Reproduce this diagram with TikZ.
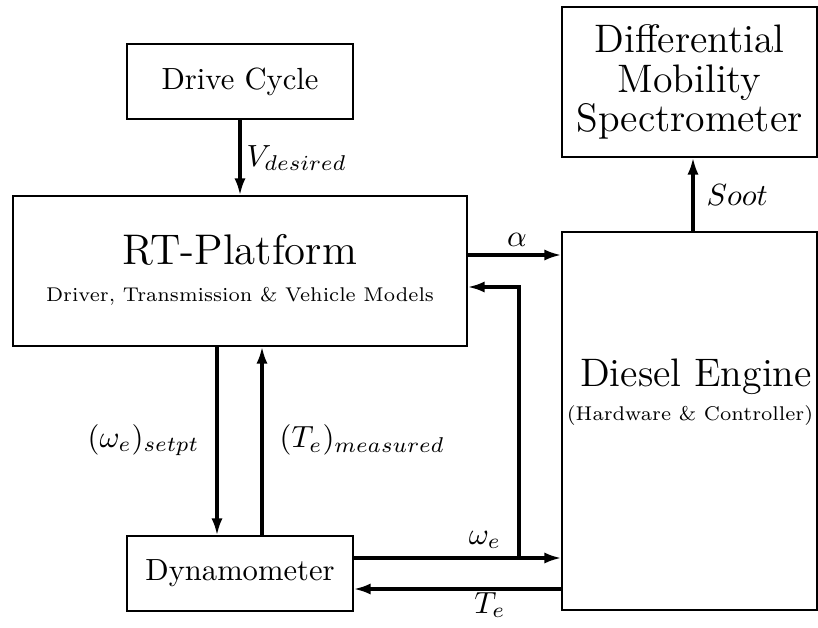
\documentclass[tikz,border=0pt]{standalone}
\usetikzlibrary{arrows.meta}
\def\pxu{0.3268pt}
\begin{document}
\begin{tikzpicture}[x=0.3268pt, y=-0.3268pt,
  blk/.style={draw, line width=0.45pt, inner sep=0pt},
  sig/.style={line width=1pt, -{Latex[length=5.5pt,width=3.6pt]}},
  lbl/.style={inner sep=0pt},
  bigtxt/.style={font=\fontsize{13}{13}\selectfont},
  smalltxt/.style={font=\fontsize{6.5}{8}\selectfont}]
  \useasboundingbox (0,0) rectangle (818,628);

  % blocks
  \node[blk, minimum width=226*\pxu, minimum height=75*\pxu] (dc) at (240,81.5) {Drive Cycle};
  \node[blk, minimum width=454*\pxu, minimum height=150*\pxu] (rt) at (240,271) {};
  \node[lbl, font=\fontsize{14}{17}\selectfont] (rtname) at (240,250) {RT-Platform};
  \node[lbl, smalltxt] (rtsub) at (240,296) {Driver, Transmission \& Vehicle Models};
  \node[blk, minimum width=226*\pxu, minimum height=75*\pxu] (dyn) at (240,573.5) {Dynamometer};
  \node[blk, minimum width=255*\pxu, minimum height=378*\pxu] (de) at (689.5,421) {};
  \node[lbl, bigtxt] (dename) at (696,377) {Diesel Engine};
  \node[lbl, smalltxt] (desub) at (690,416) {(Hardware \& Controller)};
  \node[blk, minimum width=255*\pxu, minimum height=150*\pxu, align=center, bigtxt] (dms) at (689.5,82)
    {Differential\\Mobility\\Spectrometer};

  % signals
  \draw[sig] (dc.south) -- (rt.north);
  \node[lbl, anchor=west] (vd) at (246,158) {$V_{desired}$};

  \draw[sig] (217,0 |- rt.south) -- (217,0 |- dyn.north);
  \draw[sig] (262,0 |- dyn.north) -- (262,0 |- rt.south);
  \node[lbl, anchor=east] (wset) at (200,440) {$(\omega_e)_{setpt}$};
  \node[lbl, anchor=west] (tmeas) at (279,440) {$(T_e)_{measured}$};

  \draw[sig] (rt.east |- 0,255) -- (de.west |- 0,255);
  \node[lbl] (alpha) at (517,240) {$\alpha$};

  \coordinate (tap) at (519,558);
  \draw[sig] (tap) |- (rt.east |- 0,287);

  \draw[sig] (dyn.east |- 0,558) -- (de.west |- 0,558);
  \node[lbl] (we) at (485,540) {$\omega_e$};
  \draw[sig] (de.west |- 0,589) -- (dyn.east |- 0,589);
  \node[lbl] (te) at (490,605) {$T_e$};

  \draw[sig] (693,0 |- de.north) -- (693,0 |- dms.south);
  \node[lbl, anchor=west] (soot) at (706,195) {$Soot$};
\end{tikzpicture}
\end{document}
